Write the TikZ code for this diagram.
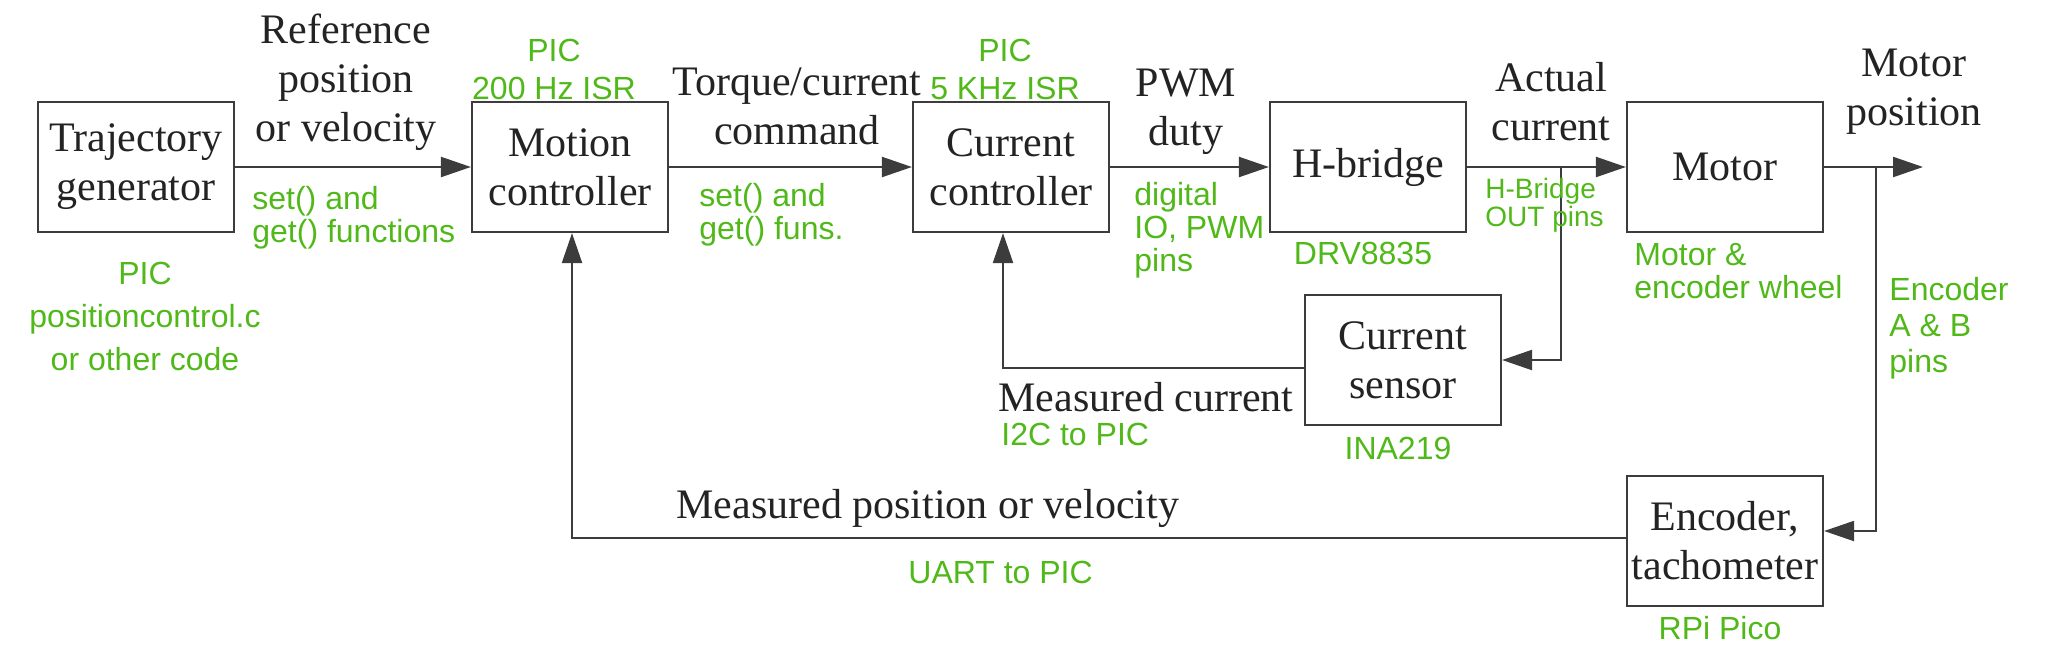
\documentclass[tikz,border=0pt]{standalone}
\usepackage{fontspec}
\setmainfont{Liberation Serif}
\newfontfamily\handfont{Liberation Sans}
\usetikzlibrary{arrows.meta}
\definecolor{ink}{RGB}{35,35,35}
\definecolor{wireink}{RGB}{60,60,60}
\definecolor{hand}{RGB}{80,185,25}
\begin{document}
\begin{tikzpicture}[x=0.5pt,y=-0.5pt,
  blk/.style={draw=wireink, line width=1.1pt, minimum width=98pt, minimum height=65pt, align=center, inner sep=0pt, font=\fontsize{21}{24.5}\selectfont, text=ink},
  lbl/.style={align=center, inner sep=0pt, font=\fontsize{21}{24.5}\selectfont, text=ink},
  hw/.style={inner sep=0pt, text=hand, font=\handfont\fontsize{16}{16.5}\selectfont},
  conn/.style={draw=wireink, line width=1.1pt, -{Triangle[length=15pt,width=10pt]}},
  wire/.style={draw=wireink, line width=1.1pt}
]
\useasboundingbox (0,0) rectangle (2070,654);
% blocks
\node[blk] (traj) at (136,167) {Trajectory\\generator};
\node[blk] (mc) at (570,167) {Motion\\controller};
\node[blk] (cc) at (1011,167) {Current\\controller};
\node[blk] (hb) at (1368,167) {H-bridge};
\node[blk] (mot) at (1725,167) {Motor};
\node[blk] (cs) at (1403,360) {Current\\sensor};
\node[blk] (enc) at (1725,541) {Encoder,\\tachometer};
% junctions and free end
\coordinate (mout) at (1923,167);
\coordinate (jc) at (1561,167);
\coordinate (je) at (1876,167);
% connectors
\draw[conn] (traj) -- (mc);
\draw[conn] (mc) -- (cc);
\draw[conn] (cc) -- (hb);
\draw[conn] (hb) -- (mot);
\draw[conn] (mot) -- (mout);
\draw[conn] (jc) |- (cs.east);
\draw[conn] (je) |- ([yshift=5pt]enc.east);
\draw[conn] ([yshift=-4pt]cs.west) -| ([xshift=-4pt]cc.south);
\draw[conn] ([yshift=1.5pt]enc.west) -| ([xshift=1pt]mc.south);
% black labels
\node[lbl] (lref) at (346,82) {Reference\\position\\or velocity};
\node[lbl] (ltq) at (797,106) {Torque/current\\command};
\node[lbl] (lpwm) at (1186,112) {PWM\\duty};
\node[lbl] (lact) at (1551,102) {Actual\\current};
\node[lbl] (lmp) at (1914,92) {Motor\\position};
\node[lbl, anchor=east] (lmc) at (1294,397) {Measured current};
\node[lbl, anchor=west] (lmpv) at (676,508) {Measured position or velocity};
% handwritten green notes
\node[hw, align=center] (g1) at (554,69) {PIC\\[2.5pt]200 Hz ISR};
\node[hw, align=center] (g2) at (145,316) {PIC\\[5pt]positioncontrol.c\\[5pt]or other code};
\node[hw, align=left, anchor=west] (g3) at (252,218) {set() and\\get() functions};
\node[hw, align=center] (g4) at (1005,69) {PIC\\[2.5pt]5 KHz ISR};
\node[hw, align=left, anchor=west] (g5) at (699,215) {set() and\\get() funs.};
\node[hw, align=left, anchor=west] (g6) at (1134,230) {digital\\IO, PWM\\pins};
\node[hw] (g7) at (1363,253) {DRV8835};
\node[hw, align=left, anchor=west, font=\handfont\fontsize{14}{13}\selectfont] (g8) at (1485,205) {H-Bridge\\OUT pins};
\node[hw, align=left, anchor=west] (g9) at (1634,271) {Motor \&\\encoder wheel};
\node[hw, align=left, anchor=west] (g10) at (1889,328) {Encoder\\[1.5pt]A \& B\\[1.5pt]pins};
\node[hw, anchor=west] (g11) at (1001,434) {I2C to PIC};
\node[hw] (g12) at (1398,448) {INA219};
\node[hw, anchor=west] (g13) at (908,572) {UART to PIC};
\node[hw] (g14) at (1720,628) {RPi Pico};
\end{tikzpicture}
\end{document}
